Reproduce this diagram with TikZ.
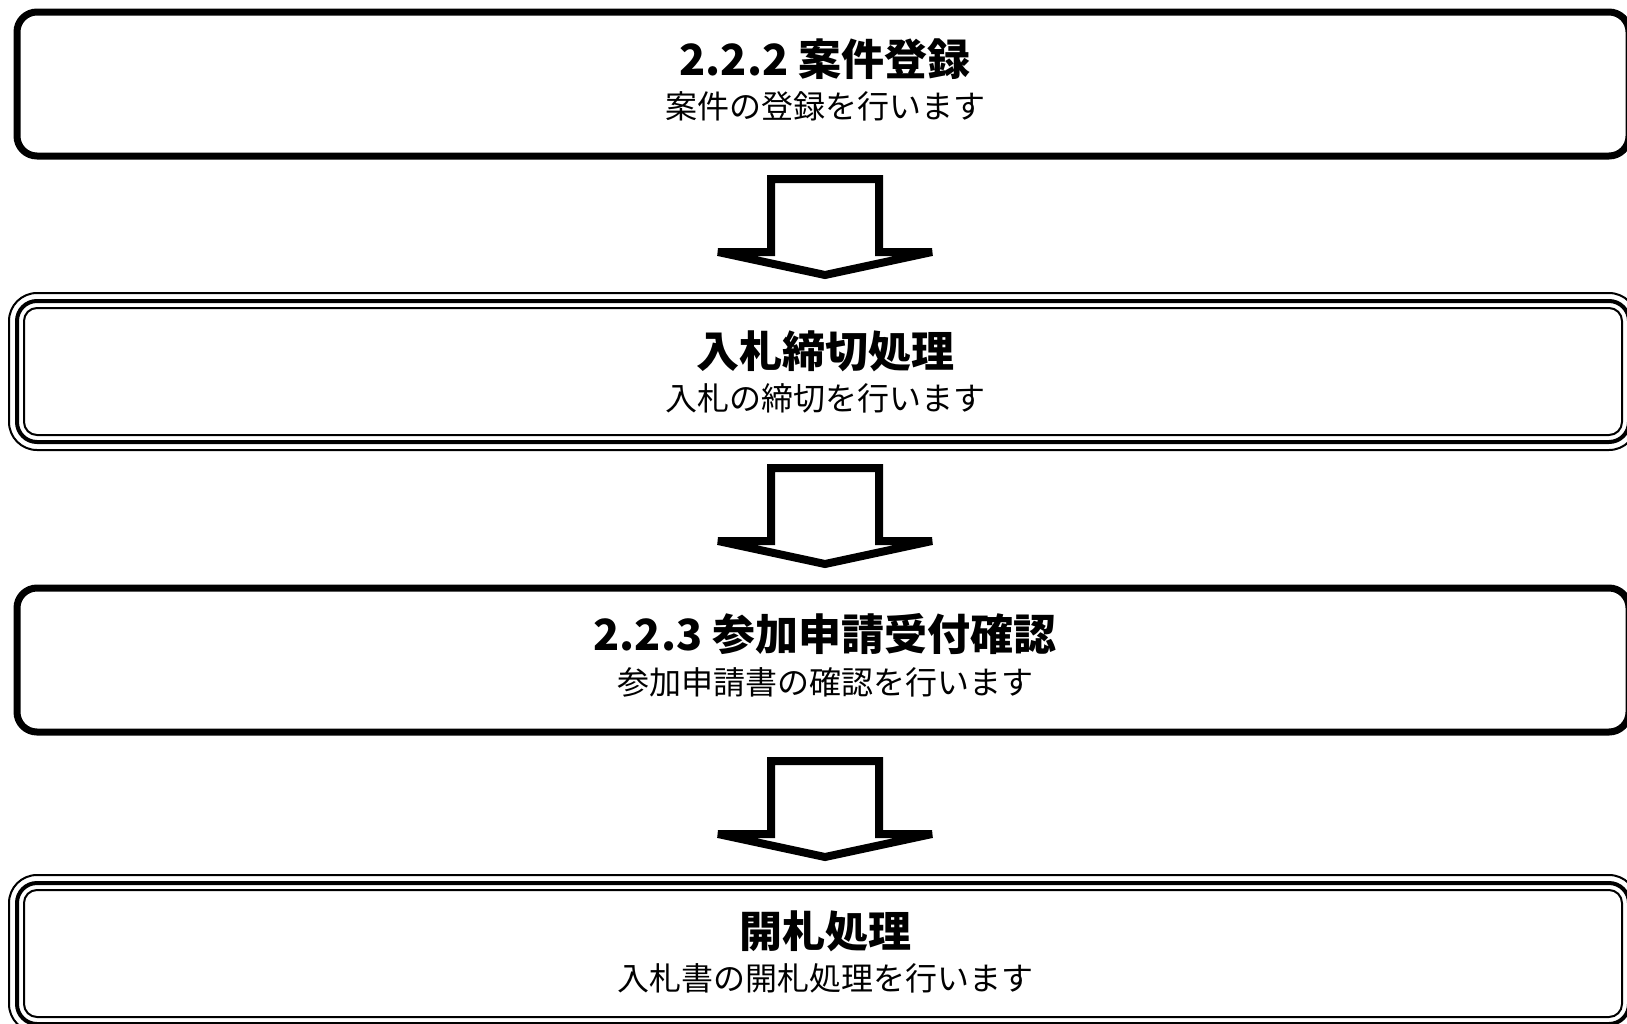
\documentclass[tikz,border=0pt]{standalone}
\usepackage{fontspec}
\newfontfamily\jp{Noto Sans CJK JP}
\tikzset{
  singlebox/.style={draw, line width=7pt, rounded corners=20pt, minimum width=1612pt, minimum height=144pt, inner sep=0pt},
  thickline/.style={draw, line width=4pt, rounded corners=20pt, minimum width=1612pt, minimum height=141pt, inner sep=0pt},
  thinouter/.style={draw, line width=2pt, rounded corners=28pt, minimum width=1628pt, minimum height=157pt, inner sep=0pt},
  thininner/.style={draw, line width=2pt, rounded corners=13pt, minimum width=1598pt, minimum height=127pt, inner sep=0pt},
  titletext/.style={font=\jp\bfseries\fontsize{43}{47}\selectfont, inner sep=0pt},
  subtext/.style={font=\jp\fontsize{32}{35}\selectfont, inner sep=0pt},
  blockarrow/.pic={\draw[line width=8pt, line join=miter, miter limit=4] (-54,0) -- (-54,73) -- (-107,73) -- (0,96) -- (107,73) -- (54,73) -- (54,0) -- cycle;}
}
\begin{document}
\begin{tikzpicture}[x=1pt,y=-1pt]
\useasboundingbox (0,0) rectangle (1627,1023);
% box 1
\node[singlebox] (b1) at (823,84) {};
\node[titletext] (t1) at (825,59) {2.2.2 案件登録};
\node[subtext] (s1) at (825,106) {案件の登録を行います};
% box 2
\node[thinouter] (b2o) at (823,371.5) {};
\node[thickline] (b2) at (823,371.5) {};
\node[thininner] (b2i) at (823,371.5) {};
\node[titletext] (t2) at (825,351) {入札締切処理};
\node[subtext] (s2) at (825,398) {入札の締切を行います};
% box 3
\node[singlebox] (b3) at (823,660) {};
\node[titletext] (t3) at (825,634) {2.2.3 参加申請受付確認};
\node[subtext] (s3) at (825,682) {参加申請書の確認を行います};
% box 4
\node[thinouter] (b4o) at (823,953.5) {};
\node[thickline] (b4) at (823,953.5) {};
\node[thininner] (b4i) at (823,953.5) {};
\node[titletext] (t4) at (825,931) {開札処理};
\node[subtext] (s4) at (825,978) {入札書の開札処理を行います};
% arrows
\pic at (825,179) {blockarrow};
\pic at (825,468) {blockarrow};
\pic at (825,761) {blockarrow};
\end{tikzpicture}
\end{document}
